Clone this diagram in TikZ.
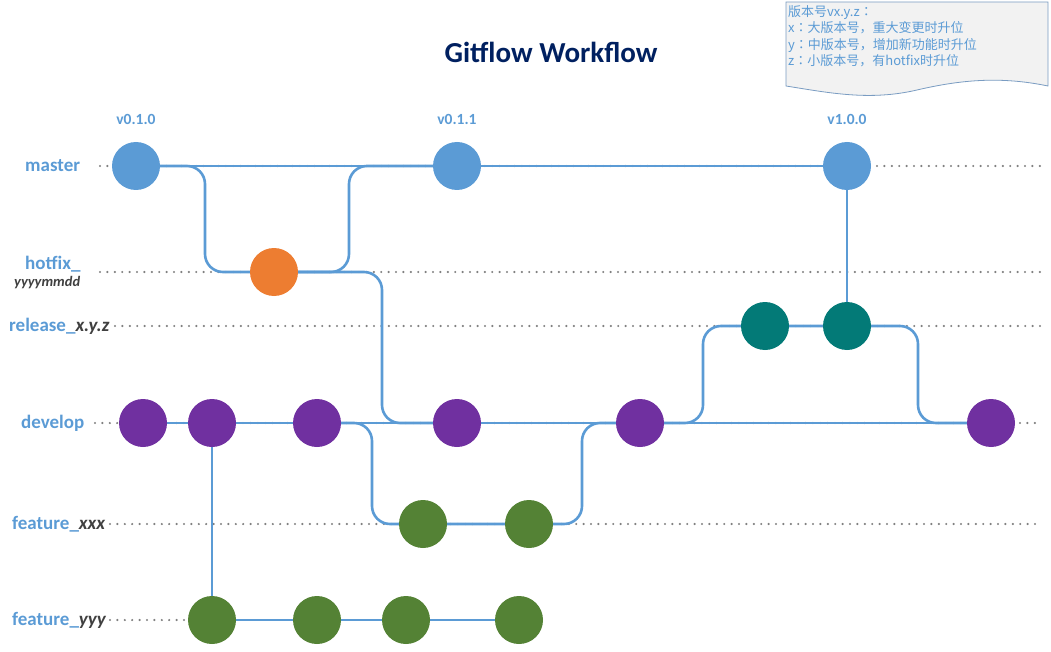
\documentclass[tikz,border=0pt]{standalone}
\usepackage{fontspec}
\setmainfont{Carlito}
\newfontfamily\cjk{Noto Sans CJK SC}
\newfontfamily\cjktc{Noto Sans CJK TC}
\newcommand\gfcolon{{\cjktc：}}
\usetikzlibrary{backgrounds}
\definecolor{gfblue}{HTML}{5B9BD5}
\definecolor{gforange}{HTML}{ED7D31}
\definecolor{gfteal}{HTML}{037A77}
\definecolor{gfpurple}{HTML}{7030A0}
\definecolor{gfgreen}{HTML}{548235}
\definecolor{gfnavy}{HTML}{002060}
\definecolor{gfdark}{HTML}{404040}
\definecolor{gfnote}{HTML}{F2F2F2}
\definecolor{gfnoteline}{HTML}{7A9CC2}
\tikzset{
  commit/.style={circle, minimum size=48pt, inner sep=0pt},
  branch/.style={draw=gfblue, line width=2.6pt, rounded corners=18pt},
  guide/.style={draw=gray, line width=2.4pt, dash pattern=on 0pt off 7.4pt, line cap=round},
  lane/.style={anchor=west, text=gfblue, inner sep=0pt, font=\fontsize{19}{22}\selectfont\bfseries},
  tag/.style={text=gfblue, inner sep=0pt, font=\fontsize{15.5}{18}\selectfont\bfseries},
}
\begin{document}
\begin{tikzpicture}[x=1pt, y=-1pt]
  \useasboundingbox (0,0) rectangle (1051,652);

  % title and version note
  \node[text=gfnavy, font=\fontsize{29}{32}\selectfont\bfseries] (title) at (551,52) {Gitflow Workflow};
  \draw[draw=gfnoteline, fill=gfnote, line width=0.8pt]
    (786,2) -- (1048,2) -- (1048,86)
    .. controls (1000,76) and (960,80) .. (917,90)
    .. controls (870,101) and (830,93) .. (786,86) -- cycle;
  \node[anchor=north west, align=left, inner sep=0pt, text=gfblue,
        font=\cjk\fontsize{13}{16.3}\selectfont] (note) at (788,5.5)
    {版本号vx.y.z\gfcolon\\x\gfcolon 大版本号，重大变更时升位\\y\gfcolon 中版本号，增加新功能时升位\\z\gfcolon 小版本号，有hotfix时升位};

  % lane labels
  \node[lane] (lmaster) at (25,166) {master};
  \node[lane] (lhotfix) at (25,264) {hotfix\_};
  \node[anchor=west, inner sep=0pt, text=gfdark, font=\fontsize{14.5}{16}\selectfont\bfseries\itshape] (lhotfixdate) at (14,283) {yyyymmdd};
  \node[lane] (lrelease) at (9,326) {release\_\textcolor{gfdark}{\itshape x.y.z}};
  \node[lane] (ldevelop) at (21,423) {develop};
  \node[lane] (lfeaturex) at (12,524) {feature\_\textcolor{gfdark}{\itshape xxx}};
  \node[lane] (lfeaturey) at (12,620) {feature\_\textcolor{gfdark}{\itshape yyy}};

  % version tags
  \node[tag] (v010) at (136,119) {v0.1.0};
  \node[tag] (v011) at (457,119) {v0.1.1};
  \node[tag] (v100) at (847,119) {v1.0.0};

  % commits
  \node[commit, fill=gfblue] (m1) at (136,166) {};
  \node[commit, fill=gfblue] (m2) at (457,166) {};
  \node[commit, fill=gfblue] (m3) at (847,166) {};
  \node[commit, fill=gforange] (h1) at (274,272) {};
  \node[commit, fill=gfteal] (r1) at (765,326) {};
  \node[commit, fill=gfteal] (r2) at (847,326) {};
  \foreach \n/\x in {1/143,2/212,3/317,4/457,5/640,6/991}
    \node[commit, fill=gfpurple] (d\n) at (\x,423) {};
  \node[commit, fill=gfgreen] (x1) at (423,524) {};
  \node[commit, fill=gfgreen] (x2) at (529,524) {};
  \foreach \n/\x in {1/212,2/317,3/406,4/519}
    \node[commit, fill=gfgreen] (y\n) at (\x,620) {};

  \begin{scope}[on background layer]
    % lane guides
    \draw[guide] (100,166) -- (1040,166);
    \draw[guide] (100,272) -- (1040,272);
    \draw[guide] (115,326) -- (1040,326);
    \draw[guide] (95,423) -- (1040,423);
    \draw[guide] (110,524) -- (1040,524);
    \draw[guide] (110,620) -- (212,620);
    % branches
    \draw[branch] (m1.center) -- (m3.center);
    \draw[branch] (m1.center) -| ([xshift=-69pt]h1.center) -- (h1.center);
    \draw[branch] (h1.center) -| ([xshift=-108pt]m2.center) -- (m2.center);
    \draw[branch] (h1.center) -| ([xshift=-75pt]d4.center) -- (d4.center);
    \draw[branch] (d1.center) -- (d6.center);
    \draw[branch] (d2.center) -- (y1.center);
    \draw[branch] (y1.center) -- (y4.center);
    \draw[branch] (d3.center) -| ([xshift=-51pt]x1.center) -- (x1.center);
    \draw[branch] (x1.center) -- (x2.center) -| ([xshift=-58pt]d5.center) -- (d5.center);
    \draw[branch] (d5.center) -| ([xshift=-62pt]r1.center) -- (r1.center);
    \draw[branch] (r1.center) -- (r2.center) -| ([xshift=-73pt]d6.center) -- (d6.center);
    \draw[branch, line width=1.5pt] (r2.center) -- (m3.center);
  \end{scope}
\end{tikzpicture}
\end{document}
